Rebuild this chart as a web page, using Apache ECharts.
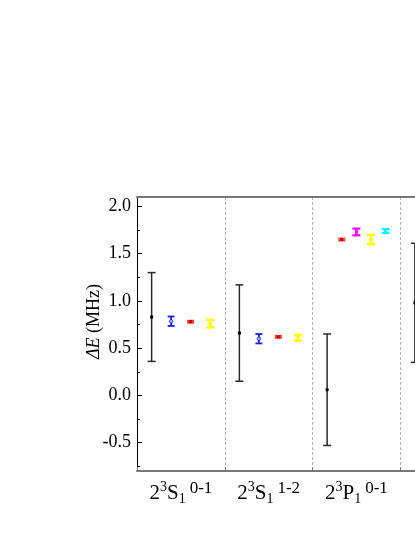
<!DOCTYPE html>
<html>
<head>
<meta charset="utf-8">
<script src="https://cdn.jsdelivr.net/npm/echarts@6/dist/echarts.min.js"></script>
<style>
html,body{margin:0;padding:0;background:#fff;overflow:hidden;}
#chart{width:500px;height:537px;}
</style>
</head>
<body>
<div id="chart"></div>
<script>
// x groups: 2^3 L_1 ^ transition
var catLevel = ['S', 'S', 'P', ''];
var catTrans = ['0-1', '1-2', '0-1', ''];
var yTicks = [-0.5, 0, 0.5, 1.0, 1.5, 2.0];
var yMinor = [-0.75, -0.25, 0.25, 0.75, 1.25, 1.75];

var blackVal = [0.83, 0.66, 0.06, 0.98];
var blackErr = [0.47, 0.51, 0.59, 0.63];
var blueVal = [0.785, 0.60, null, null];
var blueErr = [0.05, 0.05, null, null];
var redVal = [0.78, 0.62, 1.65, null];
var redErr = [0.01, 0.01, 0.01, null];
var magentaVal = [null, null, 1.73, null];
var magentaErr = [null, null, 0.035, null];
var yellowVal = [0.76, 0.61, 1.65, null];
var yellowErr = [0.04, 0.03, 0.05, null];
var cyanVal = [null, null, 1.74, null];
var cyanErr = [null, null, 0.02, null];

var serif = '"Liberation Serif","DejaVu Serif",serif';

var groups = [
  {name: 'black', val: blackVal, err: blackErr, st: {color: '#2a2a2a', width: 1.5, cap: 8, dot: '#000'}},
  {name: 'blue', val: blueVal, err: blueErr, st: {color: '#1a1aff', width: 1.8, cap: 7, dot: 'circle'}},
  {name: 'red', val: redVal, err: redErr, st: {color: '#ff3030', width: 2, cap: 7, dot: '#c80000'}},
  {name: 'magenta', val: magentaVal, err: magentaErr, st: {color: '#ff00ff', width: 2.2, cap: 8, dot: '#ff00ff'}},
  {name: 'yellow', val: yellowVal, err: yellowErr, st: {color: '#ffff00', width: 2.6, cap: 8, dot: '#ffff00'}},
  {name: 'cyan', val: cyanVal, err: cyanErr, st: {color: '#00ffff', width: 2.2, cap: 8, dot: '#00ffff'}}
];

// points of one group are spread evenly across the middle 2/3 of the category
var points = groups.map(function () { return []; });
for (var i = 0; i < catLevel.length; i++) {
  var present = [];
  for (var g = 0; g < groups.length; g++) {
    if (groups[g].val[i] != null) present.push(g);
  }
  var n = Math.max(present.length, 2);
  for (var k = 0; k < present.length; k++) {
    var gi = present[k];
    var x = i + 1 - 1 / 3 + k * (2 / 3) / (n - 1);
    points[gi].push([x, groups[gi].val[i], groups[gi].err[i]]);
  }
}

function makeRender(st) {
  return function (params, api) {
    var x = api.value(0), v = api.value(1), e = api.value(2);
    var p = api.coord([x, v]);
    var top = api.coord([x, v + e])[1];
    var bot = api.coord([x, v - e])[1];
    var hw = st.cap / 2;
    var ls = {stroke: st.color, lineWidth: st.width};
    var kids = [
      {type: 'line', shape: {x1: p[0], y1: top, x2: p[0], y2: bot}, style: ls},
      {type: 'line', shape: {x1: p[0] - hw, y1: top, x2: p[0] + hw, y2: top}, style: ls},
      {type: 'line', shape: {x1: p[0] - hw, y1: bot, x2: p[0] + hw, y2: bot}, style: ls}
    ];
    if (st.dot == 'circle') {
      kids.push({type: 'circle', shape: {cx: p[0], cy: p[1], r: 1.8}, style: {fill: '#a8b8ff', stroke: st.color, lineWidth: 0.8}});
    } else {
      kids.push({type: 'rect', shape: {x: p[0] - 1.5, y: p[1] - 1.5, width: 3, height: 3}, style: {fill: st.dot}});
    }
    return {type: 'group', children: kids};
  };
}

var seriesData = [];
for (var s = 0; s < groups.length; s++) {
  seriesData.push({
    name: groups[s].name,
    type: 'custom',
    renderItem: makeRender(groups[s].st),
    data: points[s],
    encode: {x: 0, y: 1},
    silent: true,
    z: 10
  });
}

var myChart = echarts.init(document.getElementById('chart'));
var option = {
  animation: false,
  backgroundColor: '#fff',
  grid: {left: 137, top: 197, bottom: 66, right: 12},
  xAxis: [
    {
      type: 'value', min: 0.5, max: 4.5, interval: 1, position: 'bottom',
      axisLine: {show: true, onZero: false, lineStyle: {color: '#777', width: 2}},
      axisTick: {show: true, inside: true, length: 4, lineStyle: {color: '#777'}},
      splitLine: {show: true, lineStyle: {color: '#b0b0b0', type: [3, 2], width: 1}},
      axisLabel: {
        customValues: [1, 2, 3, 4],
        margin: 9,
        formatter: function (v) {
          var i = Math.round(v) - 1;
          if (!catLevel[i]) return '';
          return '{n|2}{sup|3}{n|' + catLevel[i] + '}{sub|1}{tr|' + catTrans[i] + '}';
        },
        rich: {
          n: {fontFamily: serif, fontSize: 21, color: '#000', lineHeight: 26},
          sup: {fontFamily: serif, fontSize: 14, color: '#000', lineHeight: 9, verticalAlign: 'top'},
          sub: {fontFamily: serif, fontSize: 14, color: '#000', lineHeight: 14, verticalAlign: 'bottom'},
          tr: {fontFamily: serif, fontSize: 17, color: '#000', lineHeight: 5, verticalAlign: 'top', padding: [0, 0, 0, 4]}
        }
      }
    },
    {
      type: 'value', min: 0.5, max: 4.5, position: 'top',
      axisLine: {show: true, onZero: false, lineStyle: {color: '#777', width: 2}},
      axisTick: {show: false}, axisLabel: {show: false}, splitLine: {show: false}
    }
  ],
  yAxis: [
    {
      type: 'value', min: -0.8, max: 2.1, position: 'left',
      name: '{i|ΔE}{n| (MHz)}',
      nameLocation: 'middle',
      nameGap: 34,
      nameMoveOverlap: false,
      nameTextStyle: {
        padding: [0, 0, 0, 25],
        rich: {
          i: {fontFamily: serif, fontSize: 18, fontStyle: 'italic', color: '#000'},
          n: {fontFamily: serif, fontSize: 18, color: '#000'}
        }
      },
      axisLine: {show: true, onZero: false, lineStyle: {color: '#000', width: 1}},
      axisTick: {show: true, inside: true, length: 5, customValues: yTicks, lineStyle: {color: '#000'}},
      axisLabel: {
        customValues: yTicks, margin: 6,
        fontFamily: serif, fontSize: 18, color: '#000',
        formatter: function (v) { return v.toFixed(1); }
      },
      splitLine: {show: false}
    },
    {
      type: 'value', min: -0.8, max: 2.1, position: 'left',
      axisLine: {show: false, onZero: false},
      axisTick: {show: true, inside: true, length: 3, customValues: yMinor, lineStyle: {color: '#000'}},
      axisLabel: {show: false},
      splitLine: {show: false}
    }
  ],
  series: seriesData
};
myChart.setOption(option);
</script>
</body>
</html>
